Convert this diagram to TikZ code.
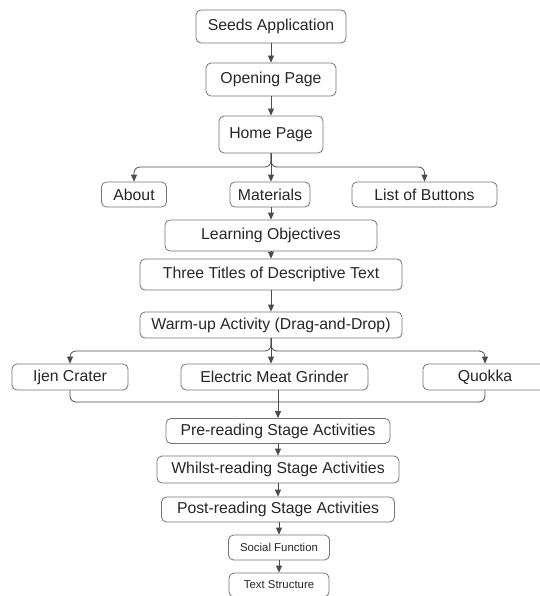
\documentclass[tikz,border=0pt]{standalone}
\usepackage{fontspec}
\setmainfont{Liberation Sans}
\usetikzlibrary{arrows.meta}

\begin{document}
\begin{tikzpicture}[x=1pt, y=-1pt,
		>={Triangle[length=7pt,width=6pt]},
		box/.style={draw=black!55, rounded corners=5pt, line width=0.8pt, inner sep=0pt,
			text=black!85, font=\fontsize{15.8}{19}\selectfont},
		smallbox/.style={box, font=\fontsize{11.4}{13}\selectfont},
		link/.style={draw=black!70, line width=0.8pt, rounded corners=6pt}]
	\useasboundingbox (0,0) rectangle (539,596);
	
	\node[box, minimum width=150pt, minimum height=33pt] (seeds) at (271, 26.5) {Seeds Application};
	\node[box, minimum width=130pt, minimum height=33pt] (opening) at (271, 79.5) {Opening Page};
	\node[box, minimum width=104pt, minimum height=37pt] (home) at (271, 134.5) {Home Page};
	\node[box, minimum width=65pt, minimum height=25pt] (about) at (134, 194.5) {About};
	\node[box, minimum width=80pt, minimum height=25pt] (materials) at (270, 194.5) {Materials};
	\node[box, minimum width=145pt, minimum height=25pt] (buttons) at (424.5, 194.5) {List of Buttons};
	\node[box, minimum width=212pt, minimum height=31pt] (objectives) at (271, 235.5) {Learning Objectives};
	\node[box, minimum width=262pt, minimum height=31pt] (titles) at (271, 274.5) {Three Titles of Descriptive Text};
	\node[box, minimum width=262pt, minimum height=26pt] (warmup) at (271, 325) {Warm-up Activity (Drag-and-Drop)};
	\node[box, minimum width=116pt, minimum height=26pt] (ijen) at (70, 377) {Ijen Crater};
	\node[box, minimum width=187pt, minimum height=26pt] (grinder) at (274.5, 377) {Electric Meat Grinder};
	\node[box, minimum width=124pt, minimum height=26pt] (quokka) at (485, 377) {Quokka};
	\node[box, minimum width=224pt, minimum height=25pt] (prereading) at (278, 431) {Pre-reading Stage Activities};
	\node[box, minimum width=242pt, minimum height=27pt] (whilst) at (278, 469.5) {Whilst-reading Stage Activities};
	\node[box, minimum width=233pt, minimum height=25pt] (postreading) at (278, 509.5) {Post-reading Stage Activities};
	\node[smallbox, minimum width=101pt, minimum height=25pt] (social) at (279, 547.5) {Social Function};
	\node[smallbox, minimum width=100pt, minimum height=24pt] (structure) at (279, 585) {Text Structure};
	
	\coordinate (homesplit) at (271, 167);
	\coordinate (warmsplit) at (271, 351);
	\coordinate (merge) at (278, 402);
	
	\draw[link, ->] (seeds) -- (opening);
	\draw[link, ->] (opening) -- (home);
	\draw[link, ->] (home.south) -- (homesplit) -| (about.north);
	\draw[link, ->] (home.south) -- (homesplit) -| (buttons.north);
	\draw[link, ->] (home.south) -- (materials.north -| home.south);
	\draw[link, ->] (materials.south -| home.south) -- (objectives);
	\draw[link, ->] (objectives) -- (titles);
	\draw[link, ->] (titles) -- (warmup);
	\draw[link, ->] (warmup.south) -- (warmsplit) -| (ijen.north);
	\draw[link, ->] (warmup.south) -- (warmsplit) -| (quokka.north);
	\draw[link, ->] (warmup.south) -- (grinder.north -| warmup.south);
	\draw[link] (ijen.south) |- (merge);
	\draw[link] (quokka.south) |- (merge);
	\draw[link, ->] (grinder.south -| prereading.north) -- (prereading.north);
	\draw[link, ->] (prereading) -- (whilst);
	\draw[link, ->] (whilst) -- (postreading);
	\draw[link, ->] (postreading.south -| social.north) -- (social);
	\draw[link, ->] (social) -- (structure);
\end{tikzpicture}
\end{document}
